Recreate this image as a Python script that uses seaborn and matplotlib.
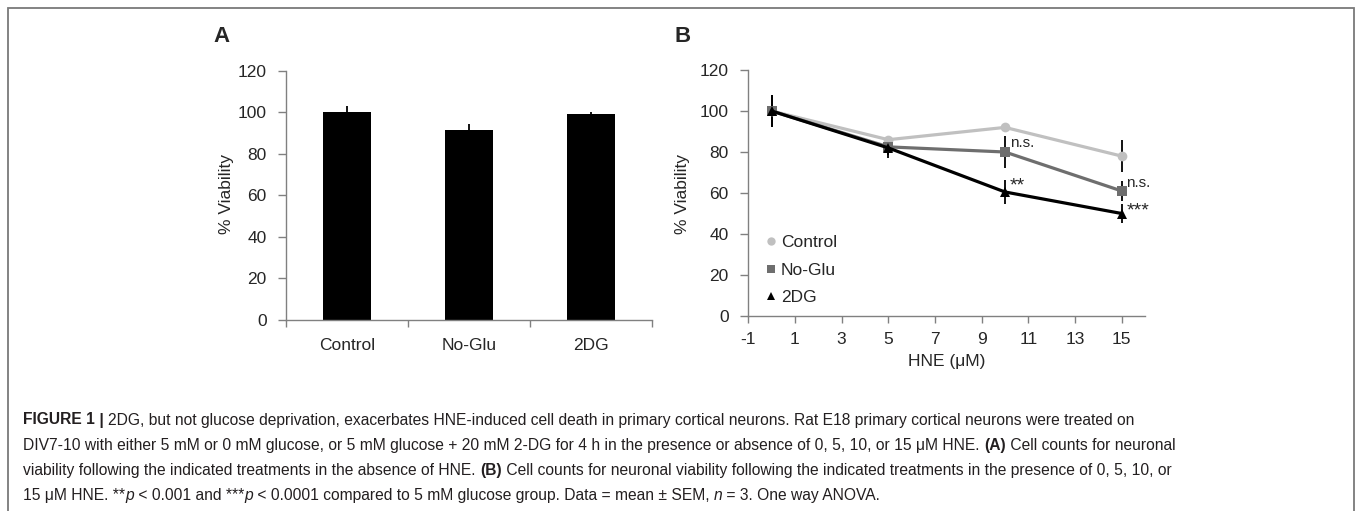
import numpy as np
import pandas as pd
import matplotlib
matplotlib.use("Agg")
import matplotlib.pyplot as plt
from matplotlib import font_manager
from matplotlib.lines import Line2D
from matplotlib.patches import Rectangle
import seaborn as sns

# ---------------- data ----------------
bar_categories = ["Control", "No-Glu", "2DG"]
bar_values = [100, 91.5, 99]
bar_sem = [3.2, 3.0, 1.0]

hne_doses = [0, 5, 10, 15]
control_vals = [100, 86, 92, 78]
noglu_vals = [100, 82.5, 80, 61]
dg_vals = [100, 82, 60.5, 50]
control_sem = [8, 2, 1.5, 8]
noglu_sem = [7, 4, 8, 5]
dg_sem = [8, 5, 6, 4.5]
series_names = ["Control", "No-Glu", "2DG"]

yticks = [0, 20, 40, 60, 80, 100, 120]
xticks_b = [-1, 1, 3, 5, 7, 9, 11, 13, 15]

caption_lines = [
    [("FIGURE 1", "bold", "normal"), (" | ", "bold", "normal"),
     ("2DG, but not glucose deprivation, exacerbates HNE-induced cell death in primary cortical neurons. "
      "Rat E18 primary cortical neurons were treated on", "normal", "normal")],
    [("DIV7-10 with either 5 mM or 0 mM glucose, or 5 mM glucose + 20 mM 2-DG for 4 h in the presence or "
      "absence of 0, 5, 10, or 15 \u03bcM HNE. ", "normal", "normal"),
     ("(A)", "bold", "normal"), (" Cell counts for neuronal", "normal", "normal")],
    [("viability following the indicated treatments in the absence of HNE. ", "normal", "normal"),
     ("(B)", "bold", "normal"),
     (" Cell counts for neuronal viability following the indicated treatments in the presence of 0, 5, 10, or",
      "normal", "normal")],
    [("15 \u03bcM HNE. **", "normal", "normal"), ("p", "normal", "italic"),
     (" < 0.001 and ***", "normal", "normal"), ("p", "normal", "italic"),
     (" < 0.0001 compared to 5 mM glucose group. Data = mean \u00b1 SEM, ", "normal", "normal"),
     ("n", "normal", "italic"), (" = 3. One way ANOVA.", "normal", "normal")],
]

# ---------------- style ----------------
sns.set_style("white")
plt.rcParams["font.family"] = ["Liberation Sans", "DejaVu Sans"]
plt.rcParams["axes.unicode_minus"] = False
available = {f.name for f in font_manager.fontManager.ttflist}
cap_family = ["Liberation Sans Narrow", "DejaVu Sans"] if "Liberation Sans Narrow" in available \
    else ["Liberation Sans", "DejaVu Sans"]

W, H = 1355, 511
fig = plt.figure(figsize=(W / 100, H / 100), dpi=100)
fig.patch.set_facecolor("white")

def fx(px):
    return px / W

def fy(py):
    return 1 - py / H

GRAY = "#808080"
TICK_FS = 12.5

def style_axes(ax):
    for s in ["top", "right"]:
        ax.spines[s].set_visible(False)
    for s in ["left", "bottom"]:
        ax.spines[s].set_color(GRAY)
        ax.spines[s].set_linewidth(1.0)
    ax.tick_params(axis="y", which="major", direction="out", length=6, width=1,
                   color=GRAY, labelsize=TICK_FS, pad=8, left=True)
    ax.set_yticks(yticks)
    ax.set_ylim(0, 120)
    ax.grid(False)

# ---------------- panel A ----------------
axA = fig.add_axes([fx(286), fy(320), fx(652 - 286), (320 - 70.7) / H])
dfA = pd.DataFrame({"Group": bar_categories, "Viability": bar_values})
sns.barplot(data=dfA, x="Group", y="Viability", color="black", width=0.4,
            errorbar=None, edgecolor="black", linewidth=0, saturation=1, ax=axA)
axA.errorbar(range(len(bar_values)), bar_values, yerr=[[0] * 3, bar_sem], fmt="none",
             ecolor="black", elinewidth=1.3, capsize=0, zorder=3)
axA.set_xlim(-0.5, 2.5)
style_axes(axA)
axA.set_xticks(range(3))
axA.set_xticklabels(bar_categories)
axA.set_xticks([-0.5, 0.5, 1.5, 2.5], minor=True)
axA.tick_params(axis="x", which="major", length=0, labelsize=TICK_FS, pad=13)
axA.tick_params(axis="x", which="minor", length=5, width=1, color=GRAY, direction="out", bottom=True)
axA.set_xlabel("")
axA.set_ylabel("% Viability", fontsize=TICK_FS, va="center")
axA.yaxis.set_label_coords(fx(226.7), fy(194), transform=fig.transFigure)

# ---------------- panel B ----------------
axB = fig.add_axes([fx(748.3), fy(316), fx(1145 - 748.3), (316 - 70) / H])
rows = []
for name, vals in zip(series_names, [control_vals, noglu_vals, dg_vals]):
    for d, v in zip(hne_doses, vals):
        rows.append({"HNE": d, "Viability": v, "Group": name})
dfB = pd.DataFrame(rows)
palette = {"Control": "#c0c0c0", "No-Glu": "#6e6e6e", "2DG": "#000000"}
markers = {"Control": "o", "No-Glu": "s", "2DG": "^"}
sns.lineplot(data=dfB, x="HNE", y="Viability", hue="Group", style="Group",
             hue_order=series_names, style_order=series_names,
             palette=palette, markers=markers, dashes=False, linewidth=2.3,
             markersize=7, markeredgewidth=0, legend=False, ax=axB)
for vals, errs in zip([control_vals, noglu_vals, dg_vals], [control_sem, noglu_sem, dg_sem]):
    axB.errorbar(hne_doses, vals, yerr=errs, fmt="none", ecolor="black",
                 elinewidth=1.3, capsize=0, zorder=1.5)
axB.set_xlim(-1, 16)
style_axes(axB)
axB.set_xticks(xticks_b)
axB.tick_params(axis="x", which="major", direction="out", length=5, width=1,
                color=GRAY, labelsize=TICK_FS, pad=6.5, bottom=True)
axB.set_ylabel("% Viability", fontsize=TICK_FS, va="center")
axB.yaxis.set_label_coords(fx(683), fy(194), transform=fig.transFigure)
axB.set_xlabel("HNE (\u03bcM)", fontsize=TICK_FS, va="center")
axB.xaxis.set_label_coords(fx(946.7), fy(361.7), transform=fig.transFigure)

handles = [Line2D([], [], marker=markers[n], color=palette[n], linestyle="none",
                  markersize=6, markeredgewidth=0) for n in series_names]
axB.legend(handles, series_names, loc="upper left", bbox_to_anchor=(0.045, 0.33),
           frameon=False, fontsize=TICK_FS, handlelength=0.6, handletextpad=0.25,
           labelspacing=0.72, borderpad=0, borderaxespad=0)

ann_fs = 11
ast_fs = 14
axB.text(10.22, 84.5, "n.s.", fontsize=ann_fs, va="center", ha="left")
axB.text(10.22, 63.5, "**", fontsize=ast_fs, va="center", ha="left")
axB.text(15.2, 65, "n.s.", fontsize=ann_fs, va="center", ha="left")
axB.text(15.2, 51, "***", fontsize=ast_fs, va="center", ha="left")

# panel letters
fig.text(fx(221), fy(36), "A", fontsize=16, fontweight="bold", ha="center", va="center")
fig.text(fx(683), fy(36), "B", fontsize=16, fontweight="bold", ha="center", va="center")

# ---------------- caption ----------------
renderer = fig.canvas.get_renderer()

def run_width(text, size, weight, style):
    t = fig.text(0, 0, text + "|", fontsize=size, fontweight=weight, fontstyle=style, family=cap_family)
    w1 = t.get_window_extent(renderer).width
    t.remove()
    t = fig.text(0, 0, "|", fontsize=size, fontweight=weight, fontstyle=style, family=cap_family)
    w2 = t.get_window_extent(renderer).width
    t.remove()
    return w1 - w2

base = 10.0
w_line2 = sum(run_width(t, base, w, s) for t, w, s in caption_lines[1])
cap_size = base * (1177 - 23) / w_line2

line_y = [420, 445, 470, 495]
for runs, yy in zip(caption_lines, line_y):
    x = 23.0
    for text, weight, style in runs:
        fig.text(fx(x), fy(yy), text, fontsize=cap_size, fontweight=weight, fontstyle=style,
                 family=cap_family, ha="left", va="center", color="#231f20")
        x += run_width(text, cap_size, weight, style)

# outer frame
fig.patches.append(Rectangle((fx(8), -0.05), fx(1354 - 8), fy(8.5) + 0.05, transform=fig.transFigure,
                             fill=False, edgecolor="#7a7a7a", linewidth=1.3, clip_on=False))

fig.savefig("out.png", dpi=100)
